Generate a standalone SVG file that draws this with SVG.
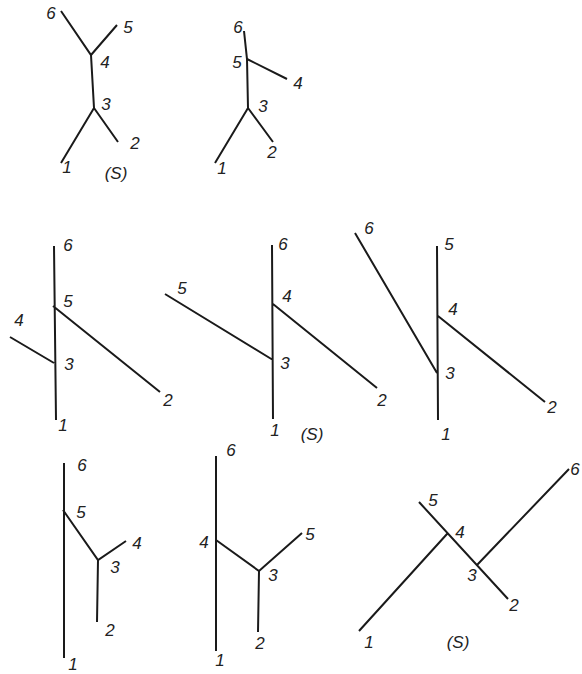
<svg xmlns="http://www.w3.org/2000/svg" width="582" height="674" viewBox="0 0 582 674">
<style>
.e{stroke:#1a1a1a;stroke-width:2;fill:none;stroke-linecap:butt}
.t{font-family:"Liberation Sans","DejaVu Sans",sans-serif;font-style:italic;font-size:17px;fill:#222;text-anchor:middle}
</style>
<rect width="582" height="674" fill="#fff"/>
<g id="connectors">
<path class="e" d="M61,11 L91,55 L117,25 M91,55 L94,108 L61,163 M94,108 L118,142"/>
<path class="e" d="M244,31 L247,59 L287,79 M247,59 L248,108 L215,163 M248,108 L273,142"/>
<path class="e" d="M54,246 L56,420 M53,306 L160,392 M54,363 L10,337"/>
<path class="e" d="M272,245 L273,419 M273,304 L377,388 M273,360 L165,294"/>
<path class="e" d="M437,246 L438,420 M438,316 L545,402 M437,373 L355,233"/>
<path class="e" d="M64,463 L64,658 M63,510 L98,560 L126,541 M98,560 L97,622"/>
<path class="e" d="M216,456 L216,651 M216,540 L259,571 L302,533 M259,571 L258,632"/>
<path class="e" d="M359,631 L447,534 M419,502 L508,599 M477,565 L569,469"/>
</g>
<g id="tree-a">
<text class="t" x="51" y="19">6</text>
<text class="t" x="128" y="33">5</text>
<text class="t" x="105" y="68">4</text>
<text class="t" x="106" y="110">3</text>
<text class="t" x="135" y="149">2</text>
<text class="t" x="67" y="173">1</text>
<text class="t" x="116" y="179">(S)</text>
</g>
<g id="tree-b">
<text class="t" x="238" y="33">6</text>
<text class="t" x="237" y="68">5</text>
<text class="t" x="298" y="89">4</text>
<text class="t" x="263" y="112">3</text>
<text class="t" x="272" y="158">2</text>
<text class="t" x="222" y="174">1</text>
</g>
<g id="tree-c">
<text class="t" x="68" y="251">6</text>
<text class="t" x="68" y="307">5</text>
<text class="t" x="19" y="326">4</text>
<text class="t" x="69" y="370">3</text>
<text class="t" x="168" y="406">2</text>
<text class="t" x="63" y="431">1</text>
</g>
<g id="tree-d">
<text class="t" x="283" y="250">6</text>
<text class="t" x="182" y="294">5</text>
<text class="t" x="287" y="302">4</text>
<text class="t" x="285" y="369">3</text>
<text class="t" x="382" y="406">2</text>
<text class="t" x="275" y="436">1</text>
<text class="t" x="312" y="440">(S)</text>
</g>
<g id="tree-e">
<text class="t" x="369" y="234">6</text>
<text class="t" x="449" y="250">5</text>
<text class="t" x="453" y="315">4</text>
<text class="t" x="450" y="379">3</text>
<text class="t" x="552" y="413">2</text>
<text class="t" x="446" y="440">1</text>
</g>
<g id="tree-f">
<text class="t" x="82" y="471">6</text>
<text class="t" x="81" y="518">5</text>
<text class="t" x="137" y="549">4</text>
<text class="t" x="115" y="573">3</text>
<text class="t" x="110" y="636">2</text>
<text class="t" x="73" y="670">1</text>
</g>
<g id="tree-g">
<text class="t" x="231" y="456">6</text>
<text class="t" x="204" y="548">4</text>
<text class="t" x="310" y="540">5</text>
<text class="t" x="273" y="581">3</text>
<text class="t" x="260" y="649">2</text>
<text class="t" x="220" y="666">1</text>
</g>
<g id="tree-h">
<text class="t" x="433" y="506">5</text>
<text class="t" x="460" y="538">4</text>
<text class="t" x="472" y="581">3</text>
<text class="t" x="514" y="611">2</text>
<text class="t" x="369" y="648">1</text>
<text class="t" x="458" y="648">(S)</text>
<text class="t" x="575" y="475">6</text>
</g>
</svg>
